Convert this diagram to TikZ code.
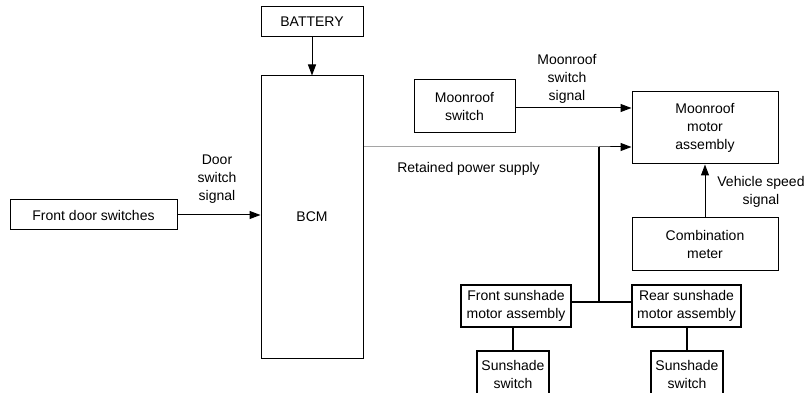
\documentclass[tikz,border=0pt]{standalone}
\usepackage{fontspec}
\setmainfont{Liberation Sans}
\usetikzlibrary{arrows.meta}
\begin{document}
\begin{tikzpicture}[
        x=1pt, y=-1pt,
        every node/.style={font=\fontsize{14}{18}\selectfont, align=center, inner sep=0pt},
        unit/.style={draw, rectangle, line width=1pt},
        sunshade/.style={draw, rectangle, line width=2.2pt},
        signal/.style={draw, line width=1pt, -{Triangle[length=11pt,width=8pt]}},
        wire/.style={draw, line width=2.2pt}
    ]
    \useasboundingbox (0,0) rectangle (804,393);
    \clip (0,0) rectangle (804,393);
    \node[unit, minimum width=102pt, minimum height=30pt] (BAT) at (312,22) {BATTERY};
    \node[unit, minimum width=102pt, minimum height=282pt] (BCM) at (312,217) {BCM};
    \node[unit, minimum width=167pt, minimum height=30pt] (FDS) at (93.5,215) {Front door switches};
    \node[unit, minimum width=101pt, minimum height=53pt] (MRS) at (464.5,106.5) {Moonroof\\switch};
    \node[unit, minimum width=146pt, minimum height=72pt] (MRM) at (705,128) {Moonroof\\motor\\assembly};
    \node[unit, minimum width=146pt, minimum height=52pt] (CMB) at (705,244) {Combination\\meter};
    \node[sunshade, minimum width=110pt, minimum height=42pt] (FSM) at (516,306) {Front sunshade\\motor assembly};
    \node[sunshade, minimum width=109pt, minimum height=42pt] (RSM) at (686.5,306) {Rear sunshade\\motor assembly};
    \node[sunshade, minimum width=72pt, minimum height=46pt] (SSF) at (513,374) {Sunshade\\switch};
    \node[sunshade, minimum width=72pt, minimum height=46pt] (SSR) at (687,374) {Sunshade\\switch};
    % signal names
    \node (DSS) at (217,179) {Door\\switch\\signal};
    \node (MSS) at (567,79) {Moonroof\\switch\\signal};
    \node (RPS) at (468.5,169) {Retained power supply};
    \node (VSS) at (761,192) {Vehicle speed\\signal};
    \coordinate (tap) at (599,147);
    \coordinate (jn) at (599,302);
    \draw[signal] (BAT) -- (BCM);
    \draw[signal] (FDS.east) -- (BCM.west |- FDS.east);
    \draw[signal] (MRS.east |- 0,108) -- (MRM.west |- 0,108);
    \draw[signal] (BCM.east |- tap) -- (tap) -- (MRM.west |- tap);
    \draw[signal] (CMB.north) -- (MRM.south);
    \draw[wire] (tap) -- (jn);
    \draw[wire] (FSM.east |- jn) -- (RSM.west |- jn);
    \draw[wire] (SSF.north) -- (SSF.north |- FSM.south);
    \draw[wire] (SSR.north) -- (SSR.north |- RSM.south);
\end{tikzpicture}
\end{document}
